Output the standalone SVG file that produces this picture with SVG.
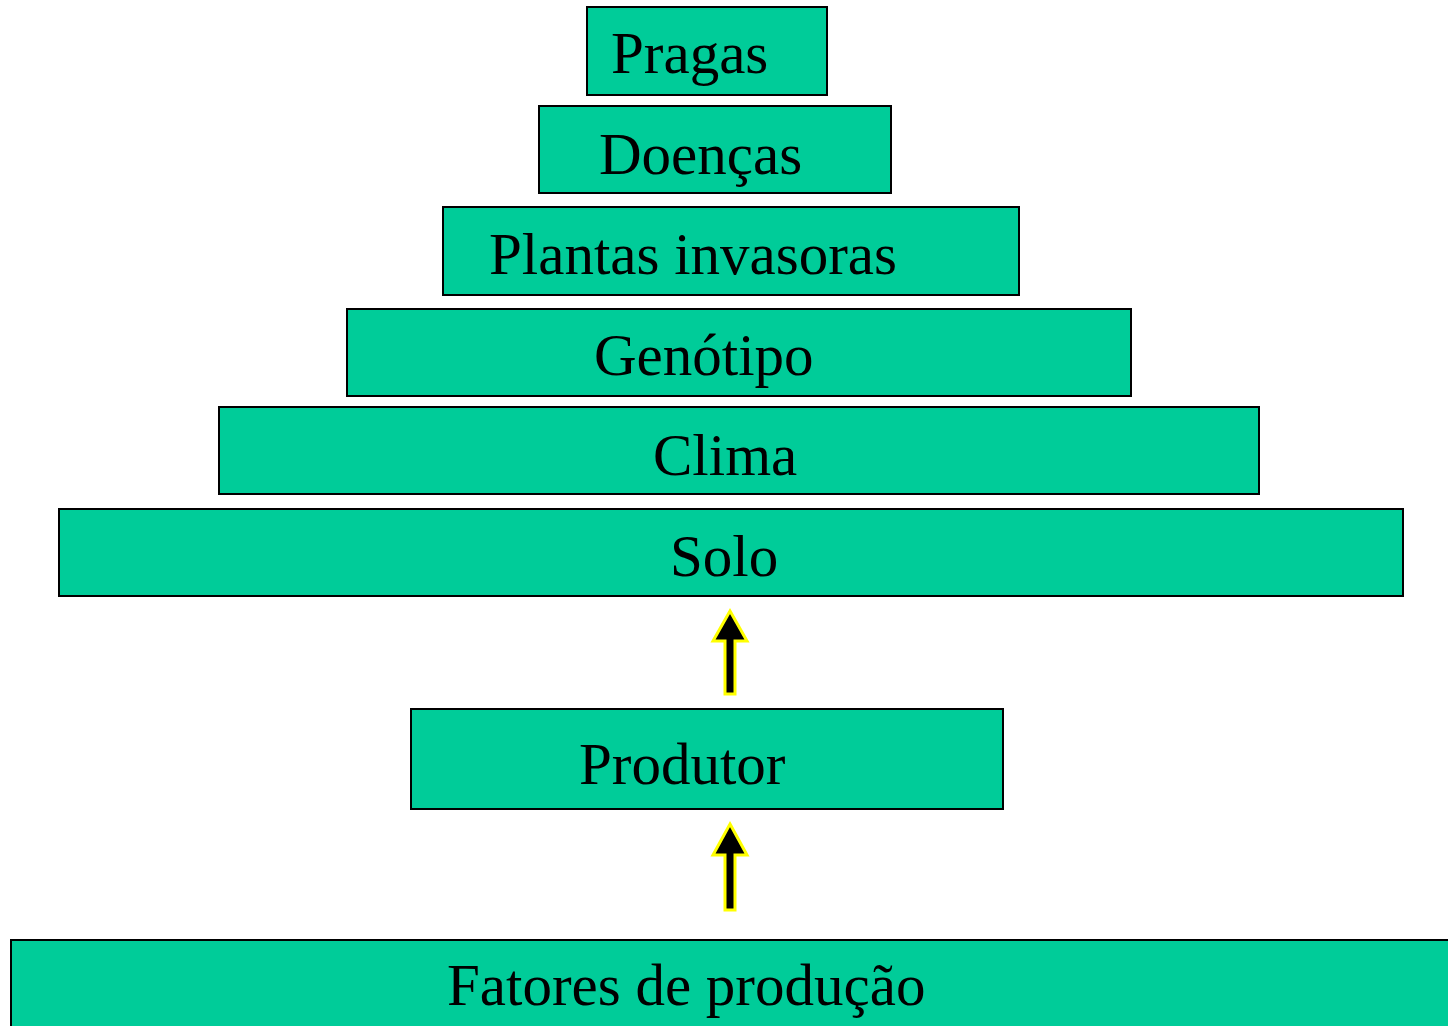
<svg xmlns="http://www.w3.org/2000/svg" width="1448" height="1026" viewBox="0 0 1448 1026">
<style>
.box{fill:#00CC99;stroke:#000;stroke-width:2}
.lbl{font-family:"Liberation Serif","Times New Roman",serif;font-size:59px;fill:#000}
.arr{fill:#000;stroke:#FFFF00;stroke-width:3;stroke-linejoin:miter}
</style>
<rect width="1448" height="1026" fill="#fff"/>
<g id="pragas"><rect class="box" x="587" y="7" width="240" height="88"/><text class="lbl" x="611" y="73">Pragas</text></g>
<g id="doencas"><rect class="box" x="539" y="106" width="352" height="87"/><text class="lbl" x="599" y="174">Doenças</text></g>
<g id="plantas"><rect class="box" x="443" y="207" width="576" height="88"/><text class="lbl" x="489" y="274">Plantas invasoras</text></g>
<g id="genotipo"><rect class="box" x="347" y="309" width="784" height="87"/><text class="lbl" x="594" y="375">Genótipo</text></g>
<g id="clima"><rect class="box" x="219" y="407" width="1040" height="87"/><text class="lbl" x="653" y="475">Clima</text></g>
<g id="solo"><rect class="box" x="59" y="509" width="1344" height="87"/><text class="lbl" x="670" y="576">Solo</text></g>
<g id="produtor"><rect class="box" x="411" y="709" width="592" height="100"/><text class="lbl" x="579" y="784">Produtor</text></g>
<g id="fatores"><rect class="box" x="11" y="940" width="1460" height="120"/><text class="lbl" x="447" y="1005">Fatores de produção</text></g>
<g id="connectors">
<polygon class="arr" points="730,611 747,641 735,641 735,694 725,694 725,641 713,641"/>
<polygon class="arr" points="730,824 747,855 735,855 735,910 725,910 725,855 713,855"/>
</g>
</svg>
